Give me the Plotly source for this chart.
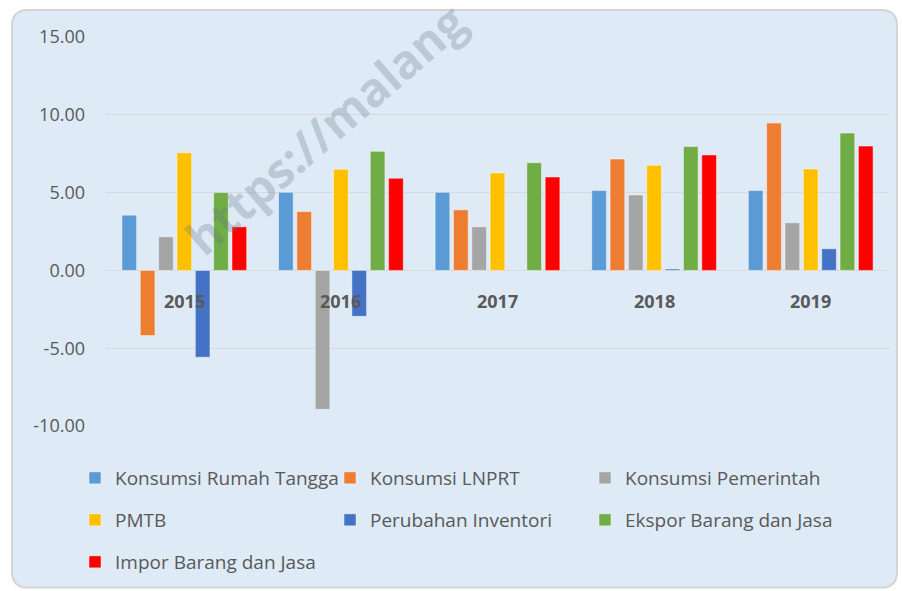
import plotly.graph_objects as go

# ---------------- data ----------------
years = ["2015", "2016", "2017", "2018", "2019"]
konsumsi_rt = [3.55, 5.02, 5.02, 5.13, 5.13]
konsumsi_lnprt = [-4.19, 3.78, 3.89, 7.16, 9.47]
konsumsi_pemerintah = [2.16, -8.93, 2.80, 4.85, 3.06]
pmtb = [7.56, 6.50, 6.26, 6.75, 6.52]
perubahan_inventori = [-5.58, -2.95, None, 0.09, 1.39]
ekspor = [5.00, 7.65, 6.92, 7.97, 8.83]
impor = [2.80, 5.92, 6.00, 7.42, 7.99]

series_names = ["Konsumsi Rumah Tangga", "Konsumsi LNPRT", "Konsumsi Pemerintah",
                "PMTB", "Perubahan Inventori", "Ekspor Barang dan Jasa",
                "Impor Barang dan Jasa"]
series_values = [konsumsi_rt, konsumsi_lnprt, konsumsi_pemerintah, pmtb,
                 perubahan_inventori, ekspor, impor]
series_colors = ["#5B9BD5", "#ED7D31", "#A5A5A5", "#FFC000", "#4472C4", "#70AD47", "#FF0000"]
legend_ids = ["legend", "legend", "legend", "legend2", "legend2", "legend2", "legend3"]

y_tickvals = [-10, -5, 0, 5, 10, 15]
y_ticktext = ["-10.00", "-5.00", "0.00", "5.00", "10.00", "15.00"]

# ---------------- layout geometry ----------------
W, H = 902, 591
ML, MR, MT, MB = 106, 13, 37, 164
PW, PH = W - ML - MR, H - MT - MB


def px(x):
    return (x - ML) / PW


def py(y):
    return (H - MB - y) / PH


FONT = "Open Sans"
TXT = "#595959"

fig = go.Figure()
for name, vals, col, lg in zip(series_names, series_values, series_colors, legend_ids):
    fig.add_trace(go.Bar(
        x=years, y=vals, name=name, legend=lg,
        marker=dict(color=col, line=dict(color="rgba(255,255,255,0.45)", width=1)),
    ))

# rounded background panel
x0, y0, x1, y1, r = 12, 10, 897, 589, 16
path = (f"M {px(x0 + r)} {py(y0)} L {px(x1 - r)} {py(y0)} "
        f"Q {px(x1)} {py(y0)} {px(x1)} {py(y0 + r)} "
        f"L {px(x1)} {py(y1 - r)} Q {px(x1)} {py(y1)} {px(x1 - r)} {py(y1)} "
        f"L {px(x0 + r)} {py(y1)} Q {px(x0)} {py(y1)} {px(x0)} {py(y1 - r)} "
        f"L {px(x0)} {py(y0 + r)} Q {px(x0)} {py(y0)} {px(x0 + r)} {py(y0)} Z")
fig.add_shape(type="path", path=path, xref="paper", yref="paper", layer="below",
              fillcolor="#DEEAF6", line=dict(color="#D4D4D4", width=2))

annotations = []
for i, yr in enumerate(years):
    annotations.append(dict(x=i, y=0, xref="x", yref="y", text=f"<b>{yr}</b>",
                            showarrow=False, yanchor="middle", yshift=-31,
                            font=dict(family=FONT, size=18, color=TXT)))
annotations.append(dict(x=px(325), y=py(129), xref="paper", yref="paper",
                        xanchor="center", yanchor="middle",
                        text="<b>https://malang</b>", showarrow=False, textangle=-41,
                        font=dict(family=FONT, size=47, color="rgba(100,115,130,0.30)")))

legend_common = dict(orientation="h", entrywidth=210, entrywidthmode="pixels",
                     font=dict(family=FONT, size=19, color=TXT),
                     bgcolor="rgba(0,0,0,0)", xanchor="left", yanchor="middle",
                     itemclick=False, itemdoubleclick=False)

fig.update_layout(
    width=W, height=H,
    margin=dict(l=ML, r=MR, t=MT, b=MB, pad=0),
    paper_bgcolor="white", plot_bgcolor="rgba(0,0,0,0)",
    barmode="group", bargap=0.18, bargroupgap=0.2,
    font=dict(family=FONT, color=TXT),
    showlegend=True,
    legend=dict(**legend_common, x=px(75), y=py(478)),
    legend2=dict(**legend_common, x=px(75), y=py(520)),
    legend3=dict(**legend_common, x=px(75), y=py(562)),
    annotations=annotations,
    xaxis=dict(showticklabels=False, showgrid=False, zeroline=False, showline=False,
               ticks=""),
    yaxis=dict(range=[-10, 15], tickvals=y_tickvals, ticktext=y_ticktext,
               showgrid=True, gridcolor="#D9D9D9", gridwidth=1,
               zeroline=True, zerolinecolor="#D9D9D9", zerolinewidth=1,
               showline=False, ticks="", ticklabelstandoff=20,
               tickfont=dict(family=FONT, size=18, color=TXT)),
)

fig.write_html("out.html", config={"displayModeBar": False},
               post_script="document.body.style.margin='0';")
